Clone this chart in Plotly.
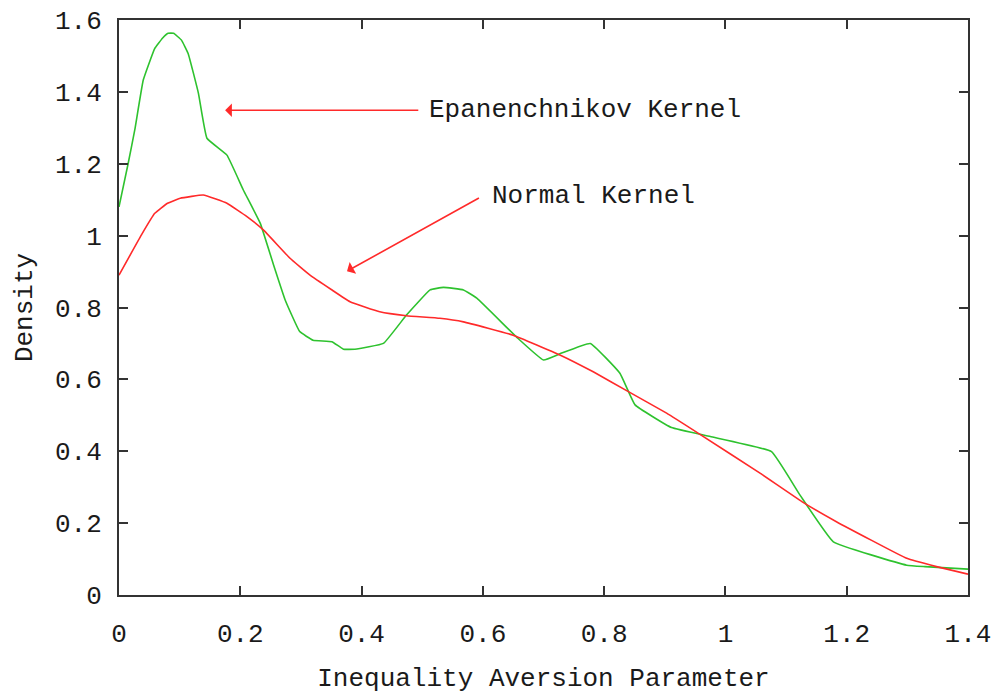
import plotly.graph_objects as go

# Epanechnikov kernel density estimate (green)
epa_x = [0.0, 0.015, 0.026, 0.04, 0.059, 0.072, 0.081, 0.09, 0.103, 0.114, 0.131, 0.145, 0.178,
         0.205, 0.233, 0.254, 0.274, 0.298, 0.320, 0.351, 0.370, 0.389, 0.436, 0.474,
         0.513, 0.535, 0.568, 0.590, 0.656, 0.700, 0.727, 0.777, 0.826, 0.851, 0.911,
         0.975, 1.076, 1.123, 1.178, 1.299, 1.329, 1.4]
epa_y = [1.08, 1.20, 1.294, 1.433, 1.521, 1.550, 1.563, 1.563, 1.544, 1.507, 1.396, 1.271, 1.224,
         1.127, 1.034, 0.923, 0.821, 0.733, 0.709, 0.705, 0.684, 0.684, 0.700, 0.779,
         0.849, 0.856, 0.849, 0.826, 0.717, 0.654, 0.671, 0.700, 0.617, 0.529, 0.466,
         0.441, 0.399, 0.278, 0.148, 0.083, 0.079, 0.072]

# Normal kernel density estimate (red)
norm_x = [0.0, 0.037, 0.059, 0.080, 0.101, 0.139, 0.178, 0.211, 0.238, 0.282, 0.315, 0.350, 0.381,
          0.430, 0.474, 0.529, 0.568, 0.650, 0.727, 0.782, 0.840, 0.903, 0.958, 1.057,
          1.126, 1.183, 1.299, 1.348, 1.4]
norm_y = [0.890, 1.002, 1.062, 1.090, 1.104, 1.113, 1.090, 1.053, 1.016, 0.937, 0.890, 0.850, 0.816,
          0.788, 0.777, 0.770, 0.760, 0.723, 0.668, 0.621, 0.566, 0.506, 0.447, 0.339,
          0.260, 0.204, 0.102, 0.079, 0.058]

x_ticks = [0, 0.2, 0.4, 0.6, 0.8, 1.0, 1.2, 1.4]
x_tick_labels = ["0", "0.2", "0.4", "0.6", "0.8", "1", "1.2", "1.4"]
y_ticks = [0, 0.2, 0.4, 0.6, 0.8, 1.0, 1.2, 1.4, 1.6]
y_tick_labels = ["0", "0.2", "0.4", "0.6", "0.8", "1", "1.2", "1.4", "1.6"]

FONT = "Liberation Mono"
TXT = "#1a1a1a"
FS = 26

fig = go.Figure()
fig.add_trace(go.Scatter(x=epa_x, y=epa_y, mode="lines",
                         line=dict(color="#2ec22e", width=1.6, shape="spline", smoothing=0.3),
                         showlegend=False))
fig.add_trace(go.Scatter(x=norm_x, y=norm_y, mode="lines",
                         line=dict(color="#ff2a2a", width=1.6, shape="spline", smoothing=0.3),
                         showlegend=False))

# annotations with arrows
fig.add_annotation(x=0.175, y=1.349, ax=0.496, ay=1.349, xref="x", yref="y",
                   axref="x", ayref="y", text="", showarrow=True,
                   arrowhead=1, arrowsize=1.4, arrowwidth=1.6, arrowcolor="#ff2a2a")
fig.add_annotation(x=0.508, y=1.349, xref="x", yref="y", text="Epanenchnikov Kernel",
                   showarrow=False, xanchor="left", yanchor="middle",
                   font=dict(family=FONT, size=FS, color=TXT))
fig.add_annotation(x=0.376, y=0.901, ax=0.596, ay=1.107, xref="x", yref="y",
                   axref="x", ayref="y", text="", showarrow=True,
                   arrowhead=1, arrowsize=1.4, arrowwidth=1.6, arrowcolor="#ff2a2a")
fig.add_annotation(x=0.612, y=1.110, xref="x", yref="y", text="Normal Kernel",
                   showarrow=False, xanchor="left", yanchor="middle",
                   font=dict(family=FONT, size=FS, color=TXT))

axis_common = dict(showgrid=False, zeroline=False, showline=True, linecolor="#333333",
                   linewidth=2, mirror="ticks", ticks="inside", ticklen=9,
                   tickwidth=2, tickcolor="#333333", automargin=False,
                   tickfont=dict(family=FONT, size=FS, color=TXT))

fig.update_xaxes(range=[0, 1.4], tickvals=x_ticks, ticktext=x_tick_labels,
                 ticklabelstandoff=14,
                 title=dict(text="Inequality Aversion Parameter",
                            font=dict(family=FONT, size=FS, color=TXT), standoff=19),
                 **axis_common)
fig.update_yaxes(range=[0, 1.6], tickvals=y_ticks, ticktext=y_tick_labels,
                 ticklabelstandoff=10,
                 title=dict(text="Density",
                            font=dict(family=FONT, size=FS, color=TXT), standoff=15),
                 **axis_common)

fig.update_layout(width=995, height=694, margin=dict(l=119, r=27, t=20, b=99),
                  plot_bgcolor="white", paper_bgcolor="white")

fig.write_html("out.html")
